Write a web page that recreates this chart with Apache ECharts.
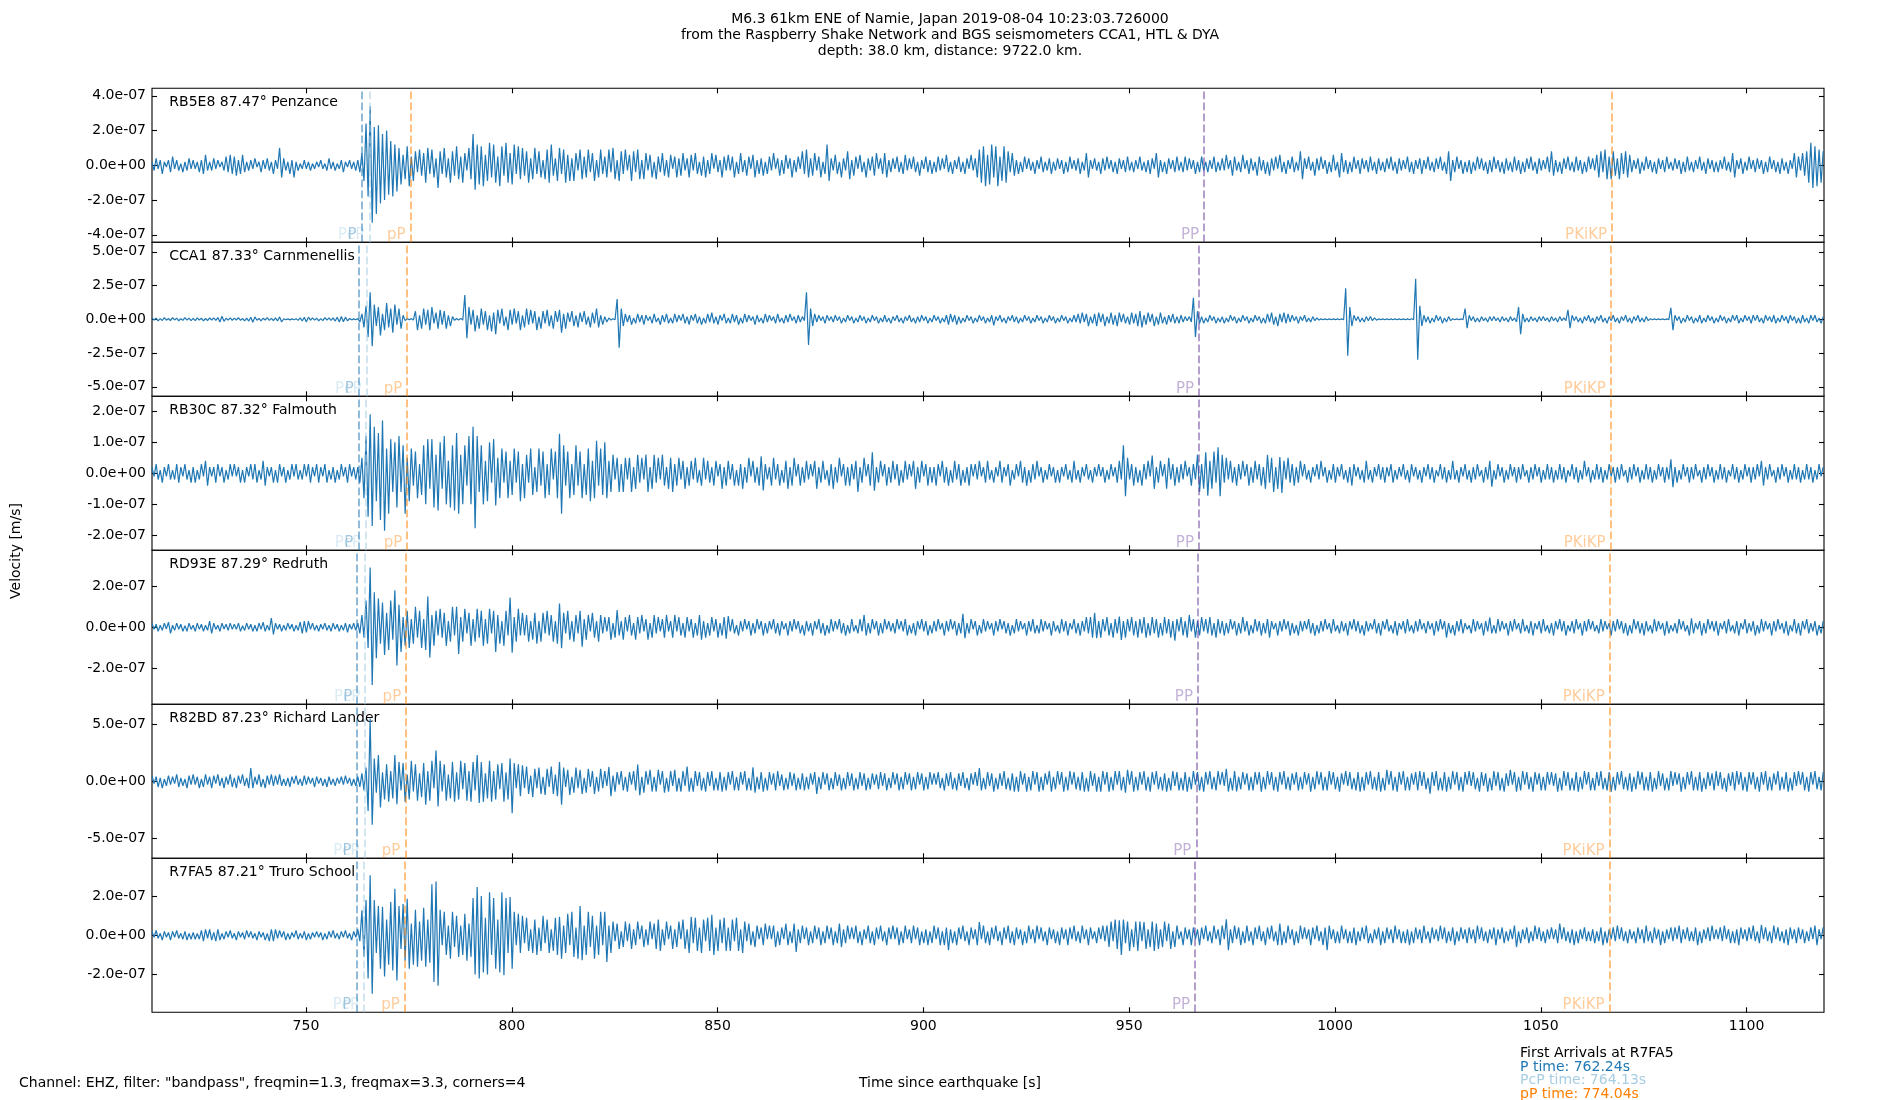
<!DOCTYPE html>
<html><head><meta charset="utf-8">
<script src="https://cdn.jsdelivr.net/npm/echarts@6/dist/echarts.min.js"></script>
<style>html,body{margin:0;padding:0;background:#fff}#c{width:1900px;height:1100px}</style>
</head><body><div id="c"></div>
<script>
// ---------- data ----------
const T0 = 712.6, DT = 0.5, BLOCK = 10, UNIT = 1e-8;   // each trace: 10 s blocks of 0.5 s samples, values in 1e-8 m/s
const X_MIN = 712.6, X_MAX = 1118.8;
const xTicks = [750, 800, 850, 900, 950, 1000, 1050, 1100];
const stationLabels = ['RB5E8 87.47° Penzance', 'CCA1 87.33° Carnmenellis', 'RB30C 87.32° Falmouth',
  'RD93E 87.29° Redruth', 'R82BD 87.23° Richard Lander', 'R7FA5 87.21° Truro School'];
const yLimits = [4.43e-7, 5.7e-7, 2.48e-7, 3.74e-7, 6.75e-7, 3.93e-7];
const yTicks = [
  [-4e-7, -2e-7, 0, 2e-7, 4e-7],
  [-5e-7, -2.5e-7, 0, 2.5e-7, 5e-7],
  [-2e-7, -1e-7, 0, 1e-7, 2e-7],
  [-2e-7, 0, 2e-7],
  [-5e-7, 0, 5e-7],
  [-2e-7, 0, 2e-7]
];
const phaseNames = ['PcP', 'P', 'pP', 'PP', 'PKiKP'];
const arrPcP   = [765.4, 764.7, 764.6, 764.4, 764.25, 764.13];
const arrP     = [763.5, 762.85, 762.72, 762.45, 762.32, 762.24];
const arrpP    = [775.4, 774.6, 774.6, 774.35, 774.15, 774.04];
const arrPP    = [968.2, 967.0, 966.95, 966.7, 966.3, 966.0];
const arrPKiKP = [1067.3, 1067.0, 1066.95, 1066.75, 1066.7, 1066.7];

const tracePenzance = [
[2,-3,4,-2,3,-5,2,-1,3,-4,5,-2,3,-3,1,-4,2,-3,4,-2],
[3,-2,2,-4,3,-5,6,-3,2,-3,4,-2,3,-1,2,-3,5,-4,6,-5],
[5,-6,3,-5,6,-4,2,-3,3,-2,4,-1,2,-4,3,-2,4,-3,2,-5],
[3,-2,10,-7,4,-3,2,-5,3,-7,2,-3,1,-2,3,-2,2,-3,1,-2],
[2,-1,3,-2,1,-3,4,-2,2,-3,1,-2,3,-4,2,-1,3,-2,2,-3],
[3,-4,7,-9,24,-18,34,-33,22,-28,23,-22,18,-20,20,-17,14,-18,12,-15],
[10,-11,6,-8,11,-12,5,-9,8,-4,9,-6,7,-10,10,-5,9,-7,4,-13],
[8,-5,10,-7,4,-10,8,-6,11,-8,5,-10,7,-3,10,-8,18,-14,12,-11],
[11,-12,6,-9,13,-7,12,-10,5,-12,11,-6,13,-10,7,-11,12,-5,11,-8],
[10,-6,8,-10,4,-8,10,-5,8,-7,3,-8,9,-10,12,-6,4,-9,10,-5],
[9,-10,6,-9,4,-9,7,-3,9,-8,5,-7,9,-4,7,-9,3,-7,9,-5],
[5,-7,9,-4,10,-8,3,-9,8,-5,9,-3,6,-9,8,-4,9,-8,3,-8],
[7,-3,6,-7,2,-8,5,-4,7,-6,3,-7,6,-2,5,-7,4,-6,7,-3],
[4,-7,6,-3,7,-5,2,-6,5,-7,3,-5,7,-2,6,-4,3,-7,5,-3],
[6,-3,5,-7,2,-5,7,-4,3,-6,5,-2,6,-7,3,-5,4,-6,2,-5],
[5,-3,7,-2,4,-6,3,-5,6,-2,4,-7,3,-4,5,-2,8,-5,9,-7],
[4,-6,7,-3,5,-7,2,-5,12,-9,4,-3,6,-5,2,-7,4,-3,8,-8],
[3,-6,5,-2,6,-4,2,-7,4,-3,5,-6,7,-2,4,-5,7,-7,3,-4],
[4,-2,5,-4,2,-5,6,-3,4,-2,5,-4,2,-6,3,-2,5,-4,3,-5],
[2,-4,5,-3,4,-2,6,-4,2,-5,3,-2,5,-4,2,-5,4,-2,6,-3],
[4,-7,9,-10,11,-12,6,-11,12,-7,11,-12,5,-9,11,-10,8,-4,7,-6],
[3,-5,2,-4,5,-2,4,-3,2,-5,3,-2,5,-4,2,-3,4,-5,2,-3],
[4,-2,3,-5,2,-4,5,-2,3,-3,4,-5,2,-3,7,-7,3,-2,4,-3],
[2,-5,4,-3,5,-2,3,-4,2,-5,4,-2,3,-4,5,-3,2,-4,3,-2],
[5,-3,2,-4,3,-5,4,-2,7,-7,3,-4,2,-5,4,-2,3,-4,5,-3],
[2,-4,5,-3,4,-2,3,-5,2,-4,5,-3,2,-4,3,-2,5,-4,2,-3],
[4,-3,6,-2,3,-6,5,-3,2,-4,6,-2,3,-5,4,-3,2,-6,5,-3],
[3,-5,2,-6,4,-3,5,-2,6,-4,2,-5,3,-2,5,-4,2,-3,8,-8],
[4,-2,5,-3,2,-6,4,-3,5,-2,3,-5,2,-4,6,-3,2,-7,7,-4],
[3,-5,2,-4,5,-2,3,-5,4,-2,3,-4,5,-3,2,-5,4,-3,2,-4],
[4,-2,5,-3,2,-5,4,-3,3,-2,5,-4,2,-5,3,-2,4,-5,3,-2],
[5,-3,2,-4,4,-2,5,-3,2,-5,8,-9,3,-4,5,-2,3,-5,2,-4],
[3,-5,2,-3,5,-2,4,-3,2,-5,3,-4,5,-2,3,-4,2,-5,4,-3],
[2,-4,5,-3,3,-5,2,-4,4,-2,5,-3,2,-5,4,-3,3,-2,5,-4],
[8,-6,3,-4,2,-5,4,-2,5,-3,2,-4,5,-3,3,-5,2,-4,5,-2],
[4,-3,6,-7,8,-4,9,-8,5,-8,8,-6,4,-8,7,-5,8,-7,6,-4],
[3,-2,4,-5,2,-3,5,-2,3,-4,2,-5,4,-2,3,-4,5,-2,2,-3],
[4,-2,3,-5,2,-4,5,-3,2,-4,3,-2,5,-3,2,-5,4,-2,3,-4],
[2,-4,3,-2,5,-3,2,-4,7,-7,3,-2,4,-5,2,-3,5,-2,3,-4],
[4,-2,3,-5,2,-4,5,-2,3,-4,2,-5,4,-3,2,-5,3,-2,7,-7],
[5,-3,7,-6,8,-10,13,-13,11,-12,9,-10,8]
];

const traceCarnmenellis = [
[1,-0.6,0.8,-1.2,0.5,-0.9,1.2,-0.7,0.6,-1,1.3,-0.5,0.9,-1.1,0.4,-0.8,1.2,-0.6,0.9,-1],
[0.7,-1,1.1,-0.5,0.8,-1.2,0.6,-0.9,1,-0.5,1.1,-0.8,1.3,-2,2.2,-1.5,0.8,-0.6,1.1,-0.7],
[0.9,-0.5,1.2,-0.8,0.6,-1.1,0.9,-1.3,1.5,-2.2,1.8,-0.7,0.6,-1.1,0.8,-0.5,1.2,-0.8,0.7,-0.9],
[1.1,-1.2,1.8,-2,0.4,-0.3,0.3,-0.4,0.3,-0.3,0.4,-0.8,1,-1.2,1.5,-2,1.6,-0.7,1,-0.6],
[0.8,-1.1,0.5,-1,1.2,-0.6,1,-0.8,1.1,-1.3,1.5,-2,2.1,-1.8,1.6,-1.2,0.6,-0.4,0.3,-0.3],
[0.5,-2,4,-6,10,-13,20,-20,11,-5,9,-12,4,-8,12,-6,8,-10,11,-4],
[8,-7,3,-1,0.5,-0.4,0.5,-0.6,6,-8,3,-7,8,-4,7,-8,9,-3,5,-7],
[7,-4,6,-7,3,-5,2,-0.8,0.6,-0.5,0.7,-0.6,18,-14,9,-4,7,-9,3,-7],
[8,-4,6,-8,3,-9,5,-11,7,-3,8,-5,2,-8,7,-4,8,-3,6,-8],
[3,-6,8,-4,7,-3,6,-8,2,-7,6,-3,7,-5,3,-7,6,-2,7,-10],
[4,-7,5,-2,6,-5,3,-6,5,-2,6,-4,2,-6,5,-3,8,-6,3,-4],
[2,-2,1,-0.6,0.4,-0.3,15,-21,8,-5,4,-2,3,-4,1,-3,4,-2,3,-4],
[3,-1,2,-3,4,-2,1,-4,3,-2,4,-3,1,-3,4,-2,3,-1,4,-3],
[2,-4,3,-1,4,-3,2,-4,1,-3,4,-2,5,-3,2,-4,3,-1,4,-3],
[1,-3,4,-2,3,-4,1,-3,4,-2,3,-1,2,-4,3,-2,1,-3,4,-2],
[3,-1,2,-3,4,-2,1,-3,3,-2,4,-1,2,-3,3,-2,2,-1,20,-19],
[8,-5,4,-2,3,-1,2,-3,3,-1,2,-2,3,-1,2,-3,1,-2,3,-1],
[2,-3,1,-2,3,-1,2,-3,1,-2,3,-1,2,-3,1,-2,3,-2,1,-3],
[2,-1,3,-2,1,-3,2,-1,3,-2,1,-3,2,-2,3,-1,2,-3,1,-2],
[3,-1,2,-3,1,-2,3,-4,4,-2,3,-4,2,-3,1,-2,3,-1,2,-3],
[1,-2,3,-1,2,-3,1,-2,3,-4.5,2,-1,3,-2,1,-3,2,-1,3,-2],
[2,-3,1,-2,3,-1,2,-3,1,-2,3,-1,2,-3,1,-2,3,-1,2,-3],
[1,-2,3,-1,2,-3,1,-2,3,-2,4,-3,5,-2,4,-5,2,-3,4,-5],
[5,-2,4,-5,2,-3,5,-4,3,-5,5,-2,4,-3,2,-4,5,-3,4,-5],
[6,-6,3,-4,5,-2,4,-5,2,-4,5,-3,2,-4,3,-2,4,-3,2,-3],
[3,-2,2,-1,2,-2,16,-13,6,-3,2,-3,1,-2,3,-1,2,-3,1,-2],
[2,-3,1,-2,3,-1,2,-3,1,-2,3,-1,2,-3,1,-2,3,-1,2,-3],
[1,-3,4,-2,5,-4,2,-5,4,-2,5,-3,4,-2,3,-1,2,-3,2,-1],
[3,-2,1,-2,2,-1,1,-0.5,0.3,-0.3,0.3,-0.3,0.3,-0.3,0.3,-0.3,0.3,-0.3,0.3,-0.3],
[23,-27,9,-5,3,-1,2,-2,1,-2,2,-1,2,-1,1,-0.6,0.3,-0.3,0.3,-0.3],
[0.3,-0.3,0.3,-0.3,0.3,-0.3,0.3,-0.3,0.3,-0.3,0.3,-0.3,0.4,-0.4,30,-30,10,-5,3,-2],
[2,-3,1,-2,3,-1,2,-3,1,-2,2,-1,0.4,-0.3,0.3,-0.3,0.3,-0.3,8,-6.5],
[3,-1,2,-2,1,-2,2,-1,1,-2,2,-1,2,-1,1,-2,2,-1,1,-2],
[2,-1,1,-2,9,-11,4,-2,1,-2,2,-1,1,-2,2,-1,2,-1,1,-2],
[2,-1,1,-2,2,-1,1,-1,7,-6.5,3,-1,2,-2,1,-3,2,-1,3,-2],
[1,-3,2,-1,3,-2,1,-3,2,-1,3,-2,1,-3,2,-1,3,-2,1,-3],
[2,-1,3,-2,1,-2,2,-1,0.4,-0.3,0.3,-0.3,0.3,-0.3,0.3,-0.3,0.3,-0.3,8.5,-8],
[3,-1,2,-3,1,-2,3,-1,2,-3,1,-2,3,-3,1,-2,3,-1,2,-3],
[1,-2,3,-1,2,-3,1,-2,3,-1,3,-3,1,-2,3,-1,2,-3,3,-1],
[3,-2,1,-3,3,-1,2,-2,3,-3,1,-2,3,-1,2,-3,3,-1,2,-3],
[1,-3,3,-2,1,-3,3,-1,3,-2,1,-3,2]
];

const traceFalmouth = [
[2,-1,3,-2,1,-3,2,-1,3,-2,1,-2,3,-3,2,-1,3,-2,1,-3],
[2,-3,1,-2,3,-1,4,-4,2,-1,2,-3,3,-1,2,-3,1,-2,3,-1],
[3,-1,2,-3,1,-3,2,-1,3,-2,3,-3,1,-2,4,-4,2,-1,2,-3],
[1,-3,3,-1,2,-3,1,-2,3,-1,3,-2,1,-2,3,-1,3,-3,2,-1],
[3,-3,2,-1,3,-3,1,-2,2,-3,1,-2,3,-1,2,-3,3,-1,2,-2],
[2,-3,5,-8,12,-14,19,-17,15,-9,13,-15,17,-18.5,8,-13,11,-6,10,-11],
[12,-6,9,-13,5,-9,8,-4,7,-8,3,-7,9,-10,11,-5,11,-11,6,-12],
[10,-5,12,-10,4,-11,9,-12,13,-13,6,-10,9,-4,12,-10,15,-17.7,12,-6],
[9,-10,4,-9,10,-3,11,-10.4,5,-8,8,-3,7,-8,4,-7,8,-3,7,-9],
[3,-8,6,-3,8,-7,2,-6,8,-4,7,-8,3,-7,8,-2,7,-8,12.7,-13],
[9,-4,7,-8,3,-7,9,-4,7,-8,3,-7,8,-9,4,-8,10.5,-4,8,-7],
[10,-8,4,-6,6,-2,5,-6,3,-6,5,-2,5,-6,2,-5,6,-3,5,-2],
[6,-6,2,-5,6,-3,5,-2,6,-4,2,-5,5,-6,3,-4,5,-2,4,-5],
[2,-4,4,-2,5,-3,1,-4,5,-2,4,-3,2,-4,4,-1,3,-5,2,-4],
[4,-2,3,-4,1,-4,3,-5,2,-3,5,-1,4,-3,2,-4,5.5,-5.5,3,-2],
[2,-4,5,-2,3,-4,1,-3,4,-5,2,-4,5,-1,3,-4,2,-3,4,-2],
[3,-1,4,-5,2,-3,4,-2,1,-4,3,-5,2,-3,5,-1,3,-4,2,-4],
[3,-2,4,-6,2,-3,5,-1,3,-4,6.8,-5.6,2,-3,4,-1,3,-4,2,-3],
[4,-2,3,-4,1,-3,4,-2,3,-1,4,-5,2,-3,4,-1,3,-4,2,-3],
[2,-4,3,-1,4,-3,2,-4,1,-3,4,-2,3,-4,1,-3,2,-4,3,-1],
[3,-2,4,-1,2,-3,4,-2,1,-3,2,-1,4,-3,2,-1,3,-4,1,-2],
[3,-1,4,-3,2,-4,1,-3,3,-2,4,-1,2,-3,1,-2,3,-1,2,-3],
[1,-3,2,-1,3,-2,1,-3,4,-2,1,-3,2,-1,3,-2,1,-3,2,-1],
[3,-1,2,-3,1,-2,3,-1,2,-3,4,-2,9,-7.4,5,-2,3,-4,2,-3],
[1,-4,3,-2,4,-1,5.7,-5,2,-3,4,-1,3,-5,5,-2,3,-4,2,-3],
[3,-2,4,-1,2,-4,3,-2,6,-6,3,-5,6.8,-7.2,4,-5,7,-3,8.4,-7.4],
[6,-3,5,-2,4,-3,2,-4,3,-2,4,-1,3,-4,2,-3,4,-2,3,-4],
[2,-5,6,-3,5,-6,2,-5,5.2,-6.3,4,-2,5,-3,3,-4,2,-3,4,-1],
[3,-2,1,-3,2,-1,3,-2,4,-1,2,-3,1,-2,3,-3,2,-1,3,-2],
[1,-3,2,-4,3,-1,2,-2,1,-3,4,-2,1,-3,2,-1,3,-2,2,-3],
[2,-1,3,-3,1,-2,2,-1,3,-2,1,-3,3,-1,2,-2,1,-3,2,-1],
[3,-2,2,-3,1,-1,3,-2,2,-3,1,-2,4,-2,1,-3,2,-1,3,-2],
[1,-3,2,-2,3,-1,1,-3,2,-2,4,-4.3,1,-2,3,-1,2,-3,1,-2],
[3,-1,2,-3,2,-2,3,-1,1,-3,2,-2,3,-1,2,-3,1,-2,3,-2],
[2,-3,1,-2,3,-2,2,-3,1,-1,3,-2,2,-3,1,-2,4,-1,2,-3],
[1,-2,3,-2,2,-3,1,-2,3,-1,2,-3,2,-2,3,-1,1,-3,2,-2],
[3,-1,2,-3,1,-2,3,-2,2,-3,1,-2,3,-1,2,-3,2,-2,4.5,-4.5],
[2,-3,1,-2,3,-1,2,-3,2,-2,3,-1,1,-3,2,-2,3,-1,2,-3],
[1,-2,3,-2,2,-3,1,-1,3,-2,2,-3,1,-2,3,-1,2,-3,2,-2],
[3,-1,4,-4,2,-2,3,-1,1,-3,2,-2,3,-1,2,-3,1,-2,3,-2],
[2,-3,1,-2,3,-2,2,-3,1,-2,3,-1,2]
];

const traceRedruth = [
[2,-1,1.5,-2,1,-1.5,2,-0.8,2.5,-3,1,-1.5,2,-1,1.5,-2,0.8,-2,2,-1],
[1,-2,2,-1,1.5,-2,1,-1.5,3,-3,2,-1,1,-2,2,-0.8,1.5,-1.5,2,-1],
[1.5,-1,2,-2,0.8,-1.5,2,-1,1.5,-2,1,-2,2,-1,2.5,-2,1,-1.5,4.5,-3.5],
[2,-1,1.5,-2,1,-1.5,2,-0.8,1.5,-2,1,-1.5,2.5,-3,3,-2.5,3,-1,2,-1.5],
[1,-2,1.5,-1,2,-1.5,1,-2,2,-1,1.5,-2,1,-1.5,2,-2.5,1.5,-1,2,-1.5],
[2,-3,6,-5,13,-10,29,-28,17,-15,14,-8,12,-13.4,7,-11,13,-6,18,-18.6],
[11,-12,5,-9,8,-10,4,-8,10,-5,8,-10,4,-11,15,-14.6,6,-9,8,-4],
[9,-5,7,-9,3,-7,10,-4,10,-13,5,-7,9,-3,7,-9,4,-7,9,-5],
[8,-9,4,-8,9,-3,8,-12,6,-8,3,-9,8,-4,14.4,-12.3,5,-7,9,-4],
[7,-4,6,-7,3,-6,7,-8,3,-7,7,-3,8,-4,6,-7,3,-8,11.6,-10.2],
[7,-3,8,-6,3,-7,6,-3,8,-9.4,4,-6,6,-2,7,-5,3,-7,6,-3],
[5,-2,5,-6,2,-5,8.4,-4,3,-6,5,-2,6,-4,2,-6,5,-3,6,-2],
[4,-6,2,-5,6,-3,5,-2,4,-5,6,-2,3,-5,6,-2,5,-4,2,-5],
[5,-2,4,-5,2,-4,6,-6,3,-5,2,-4,5,-2,4,-5,2,-4,5,-5.5],
[5.5,-2,4,-3,1,-4,3,-2,4,-1,3,-4,2,-3,4,-1,3,-4,2,-3],
[3,-1,4,-3,2,-4,3,-1,2,-4,3,-2,4,-1,3,-3,1,-4,3,-2],
[2,-4,3,-1,4,-3,2,-4,1,-3,4,-2,3,-1,4,-3,2,-4,1,-3],
[4,-2,1,-3,4,-2,6,-4,2,-3,4,-1,3,-4,2,-3,4,-1,3,-2],
[2,-3,4,-1,3,-2,4,-4,1,-3,2,-4,3,-1,4,-2,3,-4,1,-3],
[3,-2,4,-1,2,-4,3,-2,4,-1,3,-4,2,-3,6.5,-5.3,2,-3,4,-1],
[3,-4,1,-3,4,-2,3,-1,2,-4,3,-2,4,-1,3,-3,2,-4,1,-3],
[4,-2,3,-1,2,-4,3,-2,4,-3,1,-3,4,-2,3,-1,2,-4,3,-2],
[1,-3,4,-2,3,-4,2,-1,4,-3,2,-4,3,-2,5,-3,5,-5,7,-5.3],
[3,-5,4,-2,5,-4,2,-5,4,-3,5.2,-6.1,3,-5,4,-2,5,-4,3,-5],
[4,-3,5,-5,2,-4,5,-3,4,-5,2,-4,5,-3,4,-5,3,-6.5,4,-2],
[5,-4,3,-5,6,-2,4,-5,3,-4,5,-2,4,-3,5,-4,2,-5,4,-3],
[3,-4,2,-3,4,-1,3,-4,2,-3,5,-2,3,-4,1,-3,4,-2,3,-4],
[2,-3,4,-5,3,-1,2,-4,3,-2,4,-1,3,-4,2,-3,1,-4,3,-2],
[3,-1,4,-3,2,-4,1,-3,3,-2,4,-1,2,-3,4,-2,1,-3,3,-2],
[2,-4,3,-1,4,-2,3,-3,1,-4,3,-2,2,-1,4,-3,2,-4,3,-1],
[4,-2,1,-3,3,-4,2,-1,3,-3,4,-2,1,-3,3,-2,4,-1,2,-3],
[3,-1,2,-4,3,-2,4,-1,3,-5,2,-3,1,-4,3,-2,4,-3,2,-1],
[1,-3,4,-2,3,-1,2,-4,3,-2,4.7,-3,1,-3,4,-2,3,-1,2,-4],
[3,-2,4,-1,2,-3,4,-2,1,-3,3,-4,2,-1,3,-3,4,-2,1,-3],
[2,-4,3,-1,4,-2,3,-4,1,-2,3,-3,4,-1,2,-4,3,-2,4,-1],
[3,-2,1,-3,4,-2,3,-1,2,-4,3,-2,4,-1,3,-3,2,-4,1,-3],
[4,-1,3,-3,2,-4,3,-2,1,-3,4,-2,3,-1,2,-4,3,-3,1,-2],
[2,-3,4,-1,3,-2,1,-4,4.4,-3,2,-1,3,-4,2,-3,4,-1,3,-2],
[3,-4,2,-1,3,-3,4,-2,1,-3,3,-4,2,-1,4,-3,2,-2,3,-4],
[1,-3,4,-2,3,-1,2,-4,3,-2,4,-1,2,-3,3,-4,1,-2,4,-3],
[2,-4,3,-1,4,-3,2,-2,3,-4,1,-3,3]
];

const traceRichardLander = [
[5,-2,4,-5,3,-6,2,-4,5,-3,4,-2,6,-5,3,-4,2,-6,5,-3],
[6,-3,4,-6,2,-5,6,-3,4,-6,5,-2,6,-4,3,-6,4,-3,6,-5],
[3,-6,5,-2,6,-4,3,-6,11.7,-6,4,-3,6,-5,2,-6,5,-3,6,-4],
[5,-3,6,-4,2,-4,3,-5,4,-2,5,-3,2,-4,5,-3,4,-2,3,-5],
[4,-2,3,-4,2,-5,4,-3,2,-4,3,-2,4,-3,5,-2,3,-4,2,-4],
[4,-5,7,-8,12,-26,55,-38,20,-10,23,-23,8,-16,15,-18,9,-15,23,-20],
[17,-8,16,-18,6,-16,18,-9,15,-17,7,-14,16,-20.5,9,-17,18,-6,27,-22],
[18,-9,15,-17,6,-15,17,-18,8,-16,18,-7,16,-17,9,-18,17,-8,23,-19],
[17,-18,7,-15,18,-18,9,-16,15,-7,16,-18,8,-16,20,-28,16,-6,15,-13],
[14,-6,13,-11,5,-14,11,-6,12,-11,4,-12,11,-5,13,-11,6,-13,17,-20.5],
[12,-5,10,-12,4,-10,12,-6,10,-11,3,-10,11,-5,9,-11,4,-9,11,-6],
[9,-4,12.6,-13,5,-9,8,-3,9,-8,4,-9,8,-3,9,-8,14.6,-12.3,4,-10],
[9,-3,10,-9,4,-9,10,-3,9,-10,3,-9,9,-4,10,-9,3,-9,9,-4],
[13,-9,3,-9,9,-4,8,-8,3,-9,8,-4,9,-8,3,-8,8,-9,4,-8],
[8,-3,9,-8,4,-8,8,-3,9,-8,3,-8,12.3,-10,4,-7,8,-9,3,-8],
[8,-3,7,-8,9,-4,6,-8,3,-7,8,-4,7,-8,3,-7,7,-8,4,-7],
[7,-3,8,-11,4,-7,8,-3,7,-8,3,-7,8,-4,6,-8,3,-7,8,-4],
[7,-8,3,-7,8,-4,7,-8,3,-7,7,-3,6,-7,8,-4,7,-8,3,-6],
[8,-3,7,-8,4,-7,8,-3,7,-8,4,-7,8,-3,7,-8,4,-7,8,-3],
[7,-3,8,-6,3,-8,7,-4,8,-7,3,-8,7,-4,8,-6,3,-8,7,-3],
[8,-4,11.7,-8,3,-7,8,-4,7,-9,3,-7,7,-4,9,-7,3,-8,7,-9],
[4,-9,9,-3,7,-9,4,-8,9,-3,8,-9,4,-8,7,-3,9,-9,4,-7],
[9,-3,8,-9,4,-8,9,-3,8,-7,4,-8,8,-9,3,-8.8,9,-4,7,-9],
[4,-9,9,-3,8,-9,4,-8,9,-3,9,-8,4,-10,10,-3,9,-9,4,-8],
[8,-3,9,-8,4,-9,8,-3,9,-7,4,-8,7,-9,3,-8,9,-4,8,-8],
[3,-8,8,-9,4,-7,9,-3,8,-8,4,-9,8,-3,9,-7,4,-8,9,-3],
[8,-4,11,-9,3,-8,9,-8.8,4,-7,8,-3,7,-8,4,-8,8,-3,8,-9],
[4,-7,9,-3,8,-8,4,-9,8,-3,9,-7,4,-8,7,-3,8,-8,4,-7],
[8,-3,7,-9,4,-7,9,-3,8,-8,4,-8,9,-3,8,-7,4,-9,7,-3],
[9,-4,8,-7,3,-8,8,-9,4,-8,8,-3,9,-7,4,-8,8,-9,3,-8],
[10,-3,9,-8,4,-9,8,-3,9,-8,4,-8,7,-3,8,-8,9,-4,8,-7],
[3,-10.8,8,-4,9,-8,3,-8,8,-9,4,-7,9,-3,8,-8,4,-9,8,-3],
[9,-4,8,-7,3,-9,8,-4,7,-9,3,-8,9,-4,8,-8,3,-9,7,-4],
[10,-3,8,-9,4,-8,9,-3,8,-7,4,-9,8,-3,7,-8,4,-8,8,-3],
[8,-4,7,-9,3,-8,9,-4,8,-8,3,-8,8,-9,4,-7,9,-3,8,-8],
[3,-8,8,-4,9,-7,3,-8,8,-9,4,-8,8,-3,9,-7,4,-8,7,-9],
[4,-7,9,-3,8,-8,4,-8,8,-9,3,-7,9,-4,7,-8,3,-8,9,-4],
[8,-3,7,-9,4,-7,8,-3,9,-8,4,-8,8,-9,3,-7,8,-4,7,-8],
[9,-4,8,-7,3,-9,7,-4,8,-8,9,-3,8,-8,4,-9,8,-3,8,-7],
[4,-9,8,-3,9,-8,4,-8,7,-3,9,-8,4,-7,8,-9,3,-8,8,-4],
[9,-3,8,-8,4,-9,8,-3,9,-7,4,-8,8]
];

const traceTruro = [
[2,-1,2.5,-1.5,1,-2.5,2,-1,1.5,-2.5,2,-1,2.5,-1.5,1,-2,2,-2.5,1,-2],
[1.5,-2,1,-2,2.5,-3,3,-1.5,3,-2.5,1.5,-3,3,-2.5,1,-2,2,-1,2.5,-1.5],
[1,-2.5,2,-1,1.5,-2,2.5,-1,2,-1.5,1,-2.5,2,-1,1.5,-2.5,1,-3,3,-3],
[3,-1.5,2.5,-1,2,-2.5,1,-2,1.5,-1,2.5,-2,1,-1.5,2,-2.5,1,-2,1.5,-1],
[2,-1,1.5,-2.5,1,-2,2,-1,2.5,-1.5,1,-2,2,-1,2.5,-1.5,1,-2.5,2,-1],
[3,-3,12.8,-11,18,-22,30.6,-29.8,18,-9,15,-17,14.5,-21,8,-15,17,-18,23.8,-23],
[15,-7,16,-13,18.7,-17,6,-15,13,-16,7,-13,14,-16,8,-14,26,-23.8,27.5,-25.8],
[13,-5,12,-10,5,-12,12,-6,10,-11,5,-10,11,-13,6,-11,19,-20,24.6,-22],
[20,-19,9,-20,22,-10,19,-17,8,-19,22,-20.4,19,-9,19.5,-17,12,-5,11,-9],
[10,-4,9,-8,3,-9,8,-10,4,-8,10,-4,8,-9,3,-8,9,-10,9.4,-12],
[5,-9,11,-5,12,-11,4,-12,15,-12.7,5,-10,12,-6,10,-12,5,-10,12,-5],
[12,-13.6,5,-9,7,-3,6,-7,2,-6,7,-3,6,-7,3,-5,7,-2,5,-6],
[3,-5,7,-2,6,-7,8,-8,3,-5,7,-2,5,-7,3,-6,7,-2,8,-7],
[3,-9,9.4,-4,9,-8,4,-9,8,-3,9,-8,10.5,-10,4,-8,8,-4,9,-8],
[4,-8,8,-3,9,-8,3,-9,7,-3,6,-5,2,-6,5,-2,4,-5,6,-2],
[5,-2,5,-6,2,-5,4,-2,6,-5,2,-4,6,-8.5,3,-4,5,-2,4,-5],
[2,-4,5,-2,4,-5,2,-4,5,-2,4,-5,2,-4,6,-6,3,-4,5,-2],
[4,-2,5,-4,2,-5,3,-2,5,-4,2,-5,4,-2,5,-3,2,-5,4,-2],
[5,-2,4,-5,2,-4,5,-2,3,-4,5,-2,4,-5,2,-4,3,-5,2,-4],
[5,-2,4,-5,2,-5,4,-7.6,3,-4,2,-5,4,-2,5,-3,2,-5,4,-2],
[3,-5,6.8,-2,5,-4,2,-5,4,-2,5,-3,2,-5,4,-2,5,-4,2,-5],
[4,-2,3,-5,2,-4,5,-2,3,-4,5,-2,4,-3,2,-5,4,-2,3,-4],
[2,-5,4,-2,3,-5,4,-2,5,-3,2,-4,5,-2,3,-5,4,-2,2,-4],
[4,-2,5,-3,5,-6,7,-3,8,-7,7.6,-10,8,-4,7,-8,3,-6,7,-8],
[7,-3,6.8,-7,3,-6,7,-8,6,-7,3,-6,7,-3,6,-7,2,-6,5,-2],
[2,-5,4,-2,3,-5,4,-2,3,-5,4,-2,5,-3,2,-4,5,-2,3,-5],
[5,-2,8.2,-7.6,3,-4,5,-2,4,-5,2,-4,5,-3,2,-5,4,-2,5,-3],
[2,-5,4,-2,5,-3,2,-5,6,-5,2,-4,5,-2,3,-5,2,-4,5,-2],
[4,-2,3,-5,4,-2,5,-3,2,-5,4,-7.6,5,-2,3,-4,2,-4,5,-2],
[3,-4,2,-4,4,-5,2,-3,4,-2,5,-4,1,-4,3,-2,4,-5,2,-4],
[4,-2,3,-4,5,-2,3,-4,2,-4,3,-5,2,-4,4,-2,3,-4,5,-2],
[2,-4,4,-2,3,-3,5,-2,4,-4,2,-3,4,-5,2,-3,4,-2,3,-4],
[4,-2,3,-4,5,-2,4,-3,2,-4,3,-2,4,-5,3,-2,4,-4,2,-3],
[3,-2,5,-6,2,-4,3,-2,4,-4,2,-3,5,-2,4,-3,2,-4,3,-2],
[4,-2,3,-4,6,-2,4,-3,2,-4,3,-5,2,-4,3,-2,4,-3,2,-3],
[3,-4,2,-3,4,-5,2,-4,3,-2,4,-3,5,-2,4,-3,2,-4,3,-2],
[2,-4,4,-2,3,-4,5,-3,2,-4,4,-2,3,-5,2,-4,3,-2,4,-3],
[4,-2,5,-4,3,-2,4,-3,2,-3,4,-5,2,-4,3,-2,4,-3,5,-2],
[3,-2,4,-3,5,-2,3,-4,2,-4,3,-5,4,-2,3,-3,4,-2,5,-3],
[2,-4,5.4,-2,4,-3,2,-4,5,-2,4,-3,2,-4,3,-5,4,-2,3,-4],
[4,-2,3,-4,2,-3,4,-2,5,-5,3,-2,4]
];

const traces = [tracePenzance, traceCarnmenellis, traceFalmouth, traceRedruth, traceRichardLander, traceTruro];
const arrivals = [arrPcP, arrP, arrpP, arrPP, arrPKiKP];

// ---------- styling ----------
const FONT = 'DejaVu Sans';
const phaseRGB = [[166,206,227],[31,120,180],[255,127,0],[106,61,154],[255,127,0]];
const rgba = (c, a) => 'rgba(' + c[0] + ',' + c[1] + ',' + c[2] + ',' + a + ')';
const PANEL_TOP = 88.3, PANEL_H = 154, LEFT = 152, WIDTH = 1672;
const TXT_DY = 2.5;

function sci(v) {
  if (Math.abs(v) < 1e-15) return '0.0e+00';
  const s = v.toExponential(1);
  const parts = s.split('e');
  const sign = parts[1][0] === '-' ? '-' : '+';
  let d = parts[1].replace(/[+-]/, '');
  if (d.length < 2) d = '0' + d;
  return parts[0] + 'e' + sign + d;
}
function toData(blocks) {
  const out = [];
  blocks.forEach((b, k) => b.forEach((v, j) => out.push([T0 + BLOCK * k + DT * j, v * UNIT])));
  return out;
}

const grid = [], xAxis = [], yAxis = [], series = [], graphic = [];
for (let i = 0; i < 6; i++) {
  const top = PANEL_TOP + PANEL_H * i;
  grid.push({left: LEFT, width: WIDTH, top: top, height: PANEL_H, show: true,
    borderColor: '#000', borderWidth: 1.1, backgroundColor: 'transparent'});
  const tickX = {show: true, inside: true, length: 5, lineStyle: {color: '#000', width: 1.1}, customValues: xTicks};
  xAxis.push({gridIndex: i, type: 'value', min: X_MIN, max: X_MAX, position: 'bottom',
    axisLine: {show: false, onZero: false}, axisTick: tickX, splitLine: {show: false},
    axisLabel: {show: i === 5, customValues: xTicks, formatter: v => String(v),
      fontSize: 14, color: '#000', margin: 7.5, fontFamily: FONT}});
  xAxis.push({gridIndex: i, type: 'value', min: X_MIN, max: X_MAX, position: 'top',
    axisLine: {show: false, onZero: false}, axisTick: tickX, splitLine: {show: false}, axisLabel: {show: false}});
  const tickY = {show: true, inside: true, length: 5, lineStyle: {color: '#000', width: 1.1}, customValues: yTicks[i]};
  yAxis.push({gridIndex: i, type: 'value', min: -yLimits[i], max: yLimits[i], position: 'left',
    axisLine: {show: false, onZero: false}, axisTick: tickY, splitLine: {show: false},
    axisLabel: {show: true, customValues: yTicks[i], formatter: sci, fontSize: 14, color: '#000', margin: 6,
      padding: [5, 0, 0, 0], fontFamily: FONT}});
  yAxis.push({gridIndex: i, type: 'value', min: -yLimits[i], max: yLimits[i], position: 'right',
    axisLine: {show: false, onZero: false}, axisTick: tickY, splitLine: {show: false}, axisLabel: {show: false}});

  series.push({type: 'line', xAxisIndex: 2 * i, yAxisIndex: 2 * i, data: toData(traces[i]),
    showSymbol: false, symbol: 'none', silent: true, lineStyle: {color: '#1f77b4', width: 1.2}, z: 2});

  series.push({type: 'scatter', xAxisIndex: 2 * i, yAxisIndex: 2 * i, symbolSize: 0, silent: true, clip: false, z: 3,
    data: phaseNames.map((n, k) => ({name: n, value: [arrivals[k][i], -yLimits[i]],
      label: {color: rgba(phaseRGB[k], 0.5)}})),
    label: {show: true, formatter: '{b}', position: 'left', distance: 5, align: 'right', verticalAlign: 'bottom',
      fontSize: 15, fontFamily: FONT},
    markLine: {symbol: ['none', 'none'], silent: true, animation: false, label: {show: false},
      data: phaseNames.map((n, k) => ({xAxis: arrivals[k][i],
        lineStyle: {color: rgba(phaseRGB[k], 0.5), type: [7.7, 3.3], width: 2}}))}
  });

  graphic.push({type: 'text', x: 169.3, y: top + 11.6 + TXT_DY, silent: true,
    style: {text: stationLabels[i], fill: '#000', fontSize: 14, fontFamily: FONT, align: 'left', verticalAlign: 'middle'}});
}

const titleLines = ['M6.3 61km ENE of Namie, Japan 2019-08-04 10:23:03.726000',
  'from the Raspberry Shake Network and BGS seismometers CCA1, HTL & DYA',
  'depth: 38.0 km, distance: 9722.0 km.'];
const titleY = [17, 33.2, 49.2];
titleLines.forEach((t, k) => graphic.push({type: 'text', x: 950, y: titleY[k] + TXT_DY, silent: true,
  style: {text: t, fill: '#000', fontSize: 14, fontFamily: FONT, align: 'center', verticalAlign: 'middle'}}));

graphic.push({type: 'text', x: 16, y: 551, rotation: Math.PI / 2, silent: true,
  style: {text: 'Velocity [m/s]', fill: '#000', fontSize: 14, fontFamily: FONT, align: 'center', verticalAlign: 'middle'}});
graphic.push({type: 'text', x: 950, y: 1081 + TXT_DY, silent: true,
  style: {text: 'Time since earthquake [s]', fill: '#000', fontSize: 14, fontFamily: FONT, align: 'center', verticalAlign: 'middle'}});
graphic.push({type: 'text', x: 19, y: 1080.7 + TXT_DY, silent: true,
  style: {text: 'Channel: EHZ, filter: "bandpass", freqmin=1.3, freqmax=3.3, corners=4', fill: '#000', fontSize: 14, fontFamily: FONT, align: 'left', verticalAlign: 'middle'}});

const arrivalLines = ['First Arrivals at R7FA5', 'P time: 762.24s', 'PcP time: 764.13s', 'pP time: 774.04s'];
const arrivalColors = ['#000', '#1f78b4', '#a6cee3', '#ff7f00'];
const arrivalY = [1050.7, 1064.8, 1078.2, 1091.6];
arrivalLines.forEach((t, k) => graphic.push({type: 'text', x: 1520, y: arrivalY[k] + TXT_DY, silent: true,
  style: {text: t, fill: arrivalColors[k], fontSize: 14, fontFamily: FONT, align: 'left', verticalAlign: 'middle'}}));

const chart = echarts.init(document.getElementById('c'), null, {renderer: 'canvas'});
chart.setOption({
  animation: false,
  backgroundColor: '#fff',
  textStyle: {fontFamily: FONT},
  grid: grid, xAxis: xAxis, yAxis: yAxis, series: series, graphic: graphic
});
</script>
</body></html>
